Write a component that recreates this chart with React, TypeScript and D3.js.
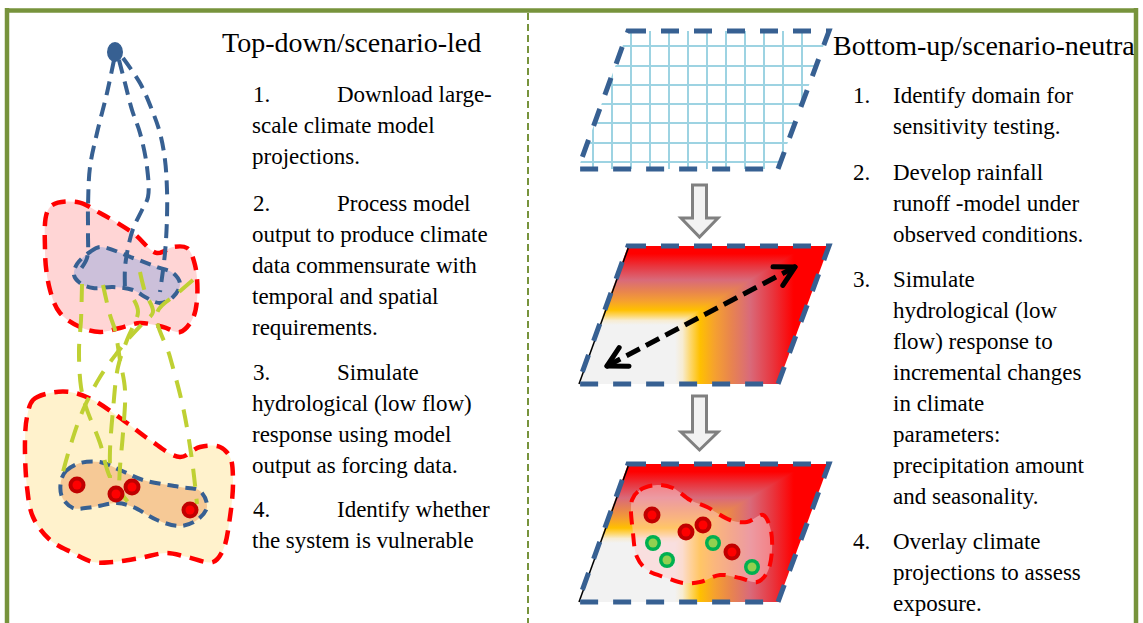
import React from 'react';
import * as d3 from 'd3';

const W = 1143;
const H = 623;

const GREEN = '#77933C';
const BLUE = '#376092';
const RED = '#FF0000';
const OLIVE = '#BFD033';
const SERIF = '"Liberation Serif", "Times New Roman", serif';

// titles and step texts
const leftTitle = 'Top-down/scenario-led';
const rightTitle = 'Bottom-up/scenario-neutral';

const leftSteps = [
  { num: '1.', first: 'Download large-', rest: ['scale climate model', 'projections.'] },
  { num: '2.', first: 'Process model', rest: ['output to produce climate', 'data commensurate with', 'temporal and spatial', 'requirements.'] },
  { num: '3.', first: 'Simulate', rest: ['hydrological (low flow)', 'response using model', 'output as forcing data.'] },
  { num: '4.', first: 'Identify whether', rest: ['the system is vulnerable'] },
];
const leftBaselines = [102, 211, 380, 517];

const rightSteps = [
  { num: '1.', lines: ['Identify domain for', 'sensitivity testing.'] },
  { num: '2.', lines: ['Develop rainfall', 'runoff -model under', 'observed conditions.'] },
  { num: '3.', lines: ['Simulate', 'hydrological (low', 'flow) response to', 'incremental changes', 'in climate', 'parameters:', 'precipitation amount', 'and seasonality.'] },
  { num: '4.', lines: ['Overlay climate', 'projections to assess', 'exposure.'] },
];
const rightBaselines = [103, 180, 287, 549];
const LINE_STEP = 31;

// left sketch: GCM point, regional blob, catchment blob
const gcmDot: [number, number] = [115, 52];
const blueCurves: [number, number][][] = [
  [[114, 60], [107, 93], [97, 133], [90, 167], [88, 207], [88, 233], [87, 258], [80, 270]],
  [[119, 60], [125, 83], [132, 110], [140, 133], [147, 167], [148, 197], [142, 210], [133, 229], [128, 248], [125, 268], [125, 290]],
  [[123, 58], [140, 83], [152, 110], [160, 133], [165, 160], [167, 190], [167, 217], [165, 253], [160, 292]],
];
const regionBlob: [number, number][] = [
  [50, 207], [77, 202], [100, 213], [133, 233], [157, 253], [173, 247], [187, 248], [195, 265], [197, 300],
  [192, 320], [180, 332], [163, 327], [140, 323], [120, 328], [100, 332], [80, 327], [60, 313], [50, 290], [45, 250],
];
const regionCore: [number, number][] = [
  [77, 264], [90, 252], [100, 247], [133, 258], [157, 267], [173, 273], [180, 284], [173, 297], [160, 303],
  [147, 298], [133, 290], [113, 287], [93, 288], [80, 283], [74, 275],
];
const downscaleLines: [number, number][][] = [
  [[82, 284], [81, 320], [79, 350], [81, 387], [86, 407], [100, 443], [110, 477], [128, 502]],
  [[103, 285], [110, 315], [115, 330], [120, 360], [125, 390], [123, 433], [120, 467], [119, 488]],
  [[140, 272], [145, 292], [153, 312], [143, 323], [130, 337], [117, 353], [100, 377], [83, 410], [70, 447], [60, 483]],
  [[134, 300], [138, 312], [127, 340], [118, 367], [113, 410], [110, 450], [110, 478]],
  [[193, 280], [178, 293], [157, 313], [170, 357], [183, 407], [192, 460], [197, 504]],
];
const catchBlob: [number, number][] = [
  [27, 417], [33, 400], [50, 393], [70, 392], [93, 400], [127, 423], [150, 440], [180, 457], [200, 447], [220, 447],
  [230, 457], [233, 480], [230, 517], [223, 550], [213, 562], [187, 557], [167, 553], [140, 558], [113, 562],
  [93, 562], [73, 553], [50, 540], [33, 517], [27, 487], [25, 440],
];
const catchCore: [number, number][] = [
  [61, 481], [66, 471], [80, 463], [100, 462], [120, 470], [143, 480], [180, 487], [200, 491], [207, 507],
  [197, 520], [180, 526], [157, 520], [133, 507], [117, 503], [93, 507], [73, 508], [62, 497],
];
const catchSites: [number, number][] = [[77, 485], [116, 494], [132, 487], [190, 510]];

// right sketch: three stacked parallelograms
const panelTops = [31, 246, 464];
const panelLeft = 578;
const panelShape: [number, number][] = [[50, 0], [251, 0], [200, 138], [0, 138]];
const gridXs = [593, 612, 631, 650, 669, 688, 707, 726, 745, 764, 783, 802];
const gridYs = [46, 66, 85, 104, 123, 143, 162];
const heatStops: [number, string][] = [
  [0, '#F2F2F2'], [0.06, '#F7ECD2'], [0.12, '#FDD870'], [0.2, '#FFC000'], [0.32, '#F5A030'],
  [0.45, '#E8844F'], [0.6, '#D96A7A'], [0.78, '#E8363F'], [0.95, '#FF0000'], [1, '#FF0000'],
];
const flowArrows = [{ top: 185, headY: 218, tip: 237 }, { top: 396, headY: 432, tip: 450 }];
const sensitivityArrow: [number, number][] = [[607, 366], [795, 267]];
const exposureBlob: [number, number][] = [
  [632, 500], [640, 490], [657, 485], [673, 488], [690, 500], [707, 507], [730, 520], [747, 522], [763, 515],
  [770, 527], [772, 550], [767, 573], [757, 582], [740, 578], [720, 575], [700, 582], [683, 583], [667, 578],
  [647, 570], [637, 557], [633, 533],
];
const vulnerableSites: [number, number][] = [[652, 515], [686, 532], [703, 525], [732, 552]];
const safeSites: [number, number][] = [[653, 543], [667, 560], [713, 543], [752, 567]];

const closed = d3.line().curve(d3.curveCatmullRomClosed.alpha(0.5));
const open = d3.line().curve(d3.curveCatmullRom.alpha(0.5));
const poly = d3.line().curve(d3.curveLinearClosed);

// arrowhead arms for the dashed double arrow
function arms(tip: [number, number], from: [number, number], len = 22, ang = 0.5) {
  const a = Math.atan2(from[1] - tip[1], from[0] - tip[0]);
  return [a - ang, a + ang].map(t => [tip[0] + len * Math.cos(t), tip[1] + len * Math.sin(t)] as [number, number]);
}

const RedDot = ({ p }: { p: [number, number] }) => (
  <g>
    <circle cx={p[0]} cy={p[1]} r={8.5} fill="#C00000" />
    <circle cx={p[0]} cy={p[1]} r={4.5} fill={RED} />
  </g>
);
const GreenDot = ({ p }: { p: [number, number] }) => (
  <g>
    <circle cx={p[0]} cy={p[1]} r={8} fill="#00B050" />
    <circle cx={p[0]} cy={p[1]} r={4.5} fill="#92D050" />
  </g>
);

export default function App() {
  const shapeD = poly(panelShape) || '';
  // region where the vertical gradient wins over the horizontal one
  const split: [number, number][] = [[-10, 79], [97, 79], [245, -10], [-10, -10]];

  const heatPanel = (i: number) => (
    <g key={'p' + i} transform={`translate(${panelLeft},${panelTops[i]})`}>
      <path d={shapeD} fill="url(#heatX)" />
      <g clipPath="url(#panelClip)">
        <path d={poly(split) || ''} fill="url(#heatY)" />
      </g>
      <line x1={1} y1={138} x2={51} y2={0} stroke="#000" strokeWidth={1.5} />
      <path d={shapeD} fill="none" stroke={BLUE} strokeWidth={5} strokeDasharray="18 15" />
    </g>
  );

  const [tail, head] = sensitivityArrow;

  return (
    <svg width={W} height={H} style={{ position: 'absolute', left: 0, top: 0, display: 'block' }} fontFamily={SERIF}>
      <defs>
        <clipPath id="panelClip"><path d={shapeD} /></clipPath>
        <clipPath id="gridClip"><path d={shapeD} transform={`translate(${panelLeft},${panelTops[0]})`} /></clipPath>
        <clipPath id="frameClip"><rect x={0} y={0} width={1134} height={H} /></clipPath>
        <linearGradient id="heatX" gradientUnits="userSpaceOnUse" x1={97} y1={0} x2={222} y2={0}>
          {heatStops.map(([o, c], k) => <stop key={k} offset={o} stopColor={c} />)}
        </linearGradient>
        <linearGradient id="heatY" gradientUnits="userSpaceOnUse" x1={0} y1={79} x2={0} y2={4}>
          {heatStops.map(([o, c], k) => <stop key={k} offset={o} stopColor={c} />)}
        </linearGradient>
      </defs>
      <rect width={W} height={H} fill="#fff" />

      {/* left sketch */}
      <path d={closed(regionBlob) || ''} fill="#FFD5D5" stroke={RED} strokeWidth={4.5} strokeDasharray="14 9" />
      <path d={closed(regionCore) || ''} fill="#CCC0DA" stroke={BLUE} strokeWidth={4} strokeDasharray="11 7" />
      {blueCurves.map((c, i) => (
        <path key={'b' + i} d={open(c) || ''} fill="none" stroke={BLUE} strokeWidth={4} strokeDasharray="14 8" />
      ))}
      <path d={closed(catchBlob) || ''} fill="#FFF2CC" stroke={RED} strokeWidth={4.5} strokeDasharray="14 9" />
      <path d={closed(catchCore) || ''} fill="#F6C996" stroke={BLUE} strokeWidth={4} strokeDasharray="11 7" />
      {downscaleLines.map((c, i) => (
        <path key={'g' + i} d={open(c) || ''} fill="none" stroke={OLIVE} strokeWidth={4} strokeDasharray="18 12" />
      ))}
      {catchSites.map((p, i) => <RedDot key={'cs' + i} p={p} />)}
      <ellipse cx={gcmDot[0]} cy={gcmDot[1]} rx={8} ry={10} fill={BLUE} />

      {/* right sketch */}
      <g transform={`translate(${panelLeft},${panelTops[0]})`}>
        <path d={shapeD} fill="#fff" />
      </g>
      <g clipPath="url(#gridClip)">
        {gridXs.map((x, i) => (
          <line key={'gx' + i} x1={x} x2={x} y1={panelTops[0]} y2={panelTops[0] + 138} stroke="#9DD3E2" strokeWidth={2} />
        ))}
        {gridYs.map((y, i) => (
          <line key={'gy' + i} x1={panelLeft} x2={panelLeft + 252} y1={y} y2={y} stroke="#9DD3E2" strokeWidth={2} />
        ))}
      </g>
      <g transform={`translate(${panelLeft},${panelTops[0]})`}>
        <path d={shapeD} fill="none" stroke={BLUE} strokeWidth={5} strokeDasharray="18 15" />
      </g>

      {flowArrows.map((a, i) => {
        const cx = 699.5;
        const pts: [number, number][] = [
          [cx - 7, a.top], [cx + 7, a.top], [cx + 7, a.headY], [cx + 18.5, a.headY], [cx, a.tip],
          [cx - 18.5, a.headY], [cx - 7, a.headY],
        ];
        return <path key={'fa' + i} d={poly(pts) || ''} fill="#F2F2F2" stroke="#808080" strokeWidth={3} strokeLinejoin="miter" />;
      })}

      {heatPanel(1)}
      <g>
        <line x1={tail[0]} y1={tail[1]} x2={head[0]} y2={head[1]} stroke="#000" strokeWidth={5} strokeDasharray="15 7" />
        {arms(head, tail).map((q, i) => (
          <line key={'ah' + i} x1={head[0]} y1={head[1]} x2={q[0]} y2={q[1]} stroke="#000" strokeWidth={5} strokeLinecap="round" />
        ))}
        {arms(tail, head).map((q, i) => (
          <line key={'at' + i} x1={tail[0]} y1={tail[1]} x2={q[0]} y2={q[1]} stroke="#000" strokeWidth={5} strokeLinecap="round" />
        ))}
      </g>

      {heatPanel(2)}
      <path d={closed(exposureBlob) || ''} fill="#FFCCCC" fillOpacity={0.5} stroke={RED} strokeWidth={4} strokeDasharray="13 9" />
      {vulnerableSites.map((p, i) => <RedDot key={'vs' + i} p={p} />)}
      {safeSites.map((p, i) => <GreenDot key={'ss' + i} p={p} />)}

      {/* texts */}
      <text x={222} y={52} fontSize={28} fill="#000">{leftTitle}</text>
      {leftSteps.map((s, i) => (
        <g key={'ls' + i} fontSize={23} fill="#000">
          <text x={253} y={leftBaselines[i]}>{s.num}</text>
          <text x={337} y={leftBaselines[i]}>{s.first}</text>
          {s.rest.map((l, j) => (
            <text key={j} x={252} y={leftBaselines[i] + LINE_STEP * (j + 1)}>{l}</text>
          ))}
        </g>
      ))}
      <g clipPath="url(#frameClip)">
        <text x={833} y={55} fontSize={28} fill="#000">{rightTitle}</text>
      </g>
      {rightSteps.map((s, i) => (
        <g key={'rs' + i} fontSize={23} fill="#000">
          <text x={853} y={rightBaselines[i]}>{s.num}</text>
          {s.lines.map((l, j) => (
            <text key={j} x={893} y={rightBaselines[i] + LINE_STEP * j}>{l}</text>
          ))}
        </g>
      ))}

      {/* frame */}
      <line x1={528} x2={528} y1={13} y2={H} stroke={GREEN} strokeWidth={2} strokeDasharray="7 4" />
      <line x1={5} x2={1138} y1={10.5} y2={10.5} stroke={GREEN} strokeWidth={4.5} />
      <line x1={7} x2={7} y1={8} y2={H} stroke={GREEN} strokeWidth={4.5} />
      <line x1={1136} x2={1136} y1={8} y2={H} stroke={GREEN} strokeWidth={4.5} />
    </svg>
  );
}
